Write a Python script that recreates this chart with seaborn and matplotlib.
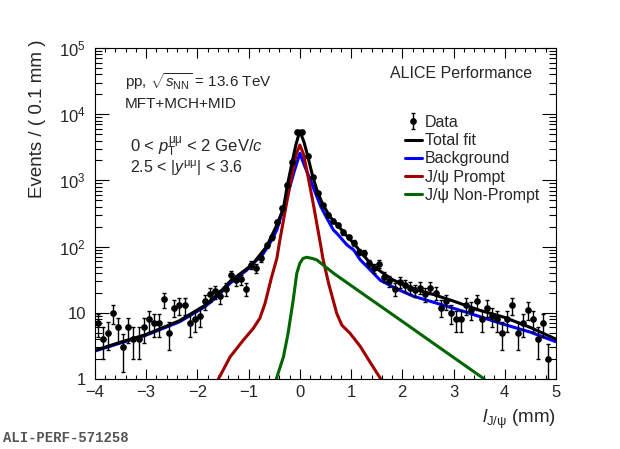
import numpy as np
import pandas as pd
import matplotlib
matplotlib.use('Agg')
import matplotlib.pyplot as plt
import matplotlib.ticker as mticker
from matplotlib.lines import Line2D
import seaborn as sns

# events per 0.1 mm bin, first bin centre at -3.95 mm
first_centre = -3.95
bin_width = 0.1
counts = [7, 4, 5, 10, 6, 3, 6, 4, 4, 6,
          8, 7, 7, 16, 5, 12, 13, 13, 7, 8,
          9, 15, 19, 21, 18, 23, 37, 31, 32, 23,
          53, 47, 67, 105, 138, 238, 378, 851, 1910, 5400,
          5400, 2300, 1140, 640, 420, 300, 246, 212, 165, 140,
          114, 84, 81, 56, 47, 55, 35, 30, 23, 29,
          26, 24, 22, 24, 19, 24, 20, 12, 15, 10,
          8, 8, 13, 11, 15, 8, 12, 9, 8, 5,
          8, 13, 5, 7, 11, 8, 4, 7, 2]

# fit components
bg_x = [-4.0, -3.5, -3.0, -2.35, -1.85, -1.6, -1.36, -1.04, -0.71, -0.55, -0.45,
        -0.39, -0.29, -0.19, -0.1, 0.0, 0.1, 0.23, 0.41, 0.55, 0.655, 0.72, 0.92,
        1.05, 1.18, 1.31, 1.57, 1.89, 2.2, 2.6, 3.2, 3.9, 4.5, 5.0]
bg_y = [2.65, 3.5, 4.6, 7.3, 12.4, 18, 28, 44, 79, 125, 178,
        253, 450, 830, 1450, 2560, 1600, 904, 400, 250, 178, 159, 106,
        89, 63, 50, 31, 23, 18, 14.5, 10.5, 7, 5.1, 3.65]

tot_x = [-4.0, -3.5, -3.0, -2.35, -1.85, -1.6, -1.36, -1.04, -0.91, -0.65, -0.45,
         -0.32, -0.25, -0.15, -0.08, 0.0, 0.08, 0.15, 0.25, 0.35, 0.45, 0.6, 0.75,
         0.9, 1.05, 1.2, 1.4, 1.6, 1.8, 2.0, 2.3, 2.6, 3.0, 3.5, 4.0, 4.5, 5.0]
tot_y = [2.7, 3.6, 4.7, 7.6, 13, 19, 30, 46, 56, 100, 212,
         380, 800, 1900, 3400, 5600, 3800, 2400, 1150, 650, 430, 275, 205,
         150, 112, 81, 53, 41, 32, 27, 22, 19, 15, 11, 8.5, 6, 4.0]

pr_x = [-1.59, -1.36, -1.1, -0.91, -0.78, -0.68, -0.55, -0.45, -0.39, -0.26, -0.15,
        -0.07, 0.0, 0.07, 0.15, 0.26, 0.4, 0.45, 0.56, 0.72, 0.82, 0.98, 1.18, 1.37, 1.58]
pr_y = [1.0, 2.17, 3.9, 5.8, 8.3, 13.9, 35, 66, 126, 450, 1250,
        2500, 3430, 2500, 1250, 450, 112, 66, 28, 9.8, 6.5, 4.9, 3.1, 1.8, 1.0]

np_x = [-0.46, -0.32, -0.23, -0.13, -0.06, 0.0, 0.06, 0.13, 0.25, 0.33, 0.66,
        1.31, 1.96, 2.61, 3.26, 3.6]
np_y = [1.0, 2.17, 4.9, 15.6, 39.5, 56, 66, 69, 66, 63, 39.5,
        17.5, 7.8, 3.45, 1.53, 1.0]

blue = '#0000ff'
red = '#a00000'
green = '#006600'

sns.set_style('ticks')
plt.rcParams['font.family'] = ['Liberation Sans', 'DejaVu Sans']
plt.rcParams['mathtext.fontset'] = 'custom'
plt.rcParams['mathtext.rm'] = 'Liberation Sans'
plt.rcParams['mathtext.it'] = 'Liberation Sans:italic'
plt.rcParams['mathtext.bf'] = 'Liberation Sans:bold'

fig = plt.figure(figsize=(6.2, 4.49), dpi=100)
ax = fig.add_axes([0.1532, 0.1559, 0.7435, 0.7372])

lw = 2.2
sns.lineplot(x=bg_x, y=bg_y, color=blue, lw=lw, ax=ax)
sns.lineplot(x=pr_x, y=pr_y, color=red, lw=lw, ax=ax)
sns.lineplot(x=np_x, y=np_y, color=green, lw=lw, ax=ax)
sns.lineplot(x=tot_x, y=tot_y, color='black', lw=lw, ax=ax)

data = pd.DataFrame({'counts': counts})
data['l'] = first_centre + bin_width * np.arange(len(data))
data['err'] = np.sqrt(data['counts'])
eb = ax.errorbar(data['l'], data['counts'], yerr=data['err'], fmt='o', color='black',
                 ms=3.8, elinewidth=1, capsize=1.5, capthick=1, zorder=5)

ax.set_yscale('log')
ax.set_xlim(-4, 5)
ax.set_ylim(1, 1e5)
ax.set_xlabel('')
ax.set_ylabel('')

ax.xaxis.set_major_locator(mticker.MultipleLocator(1))
ax.xaxis.set_minor_locator(mticker.MultipleLocator(0.2))
ax.yaxis.set_major_locator(mticker.FixedLocator([1, 10, 1e2, 1e3, 1e4, 1e5]))
ax.yaxis.set_major_formatter(mticker.FixedFormatter(
    ['1', '10', r'$10^{2}$', r'$10^{3}$', r'$10^{4}$', r'$10^{5}$']))
ax.yaxis.set_minor_locator(mticker.LogLocator(base=10, subs=np.arange(2, 10)))
ax.yaxis.set_minor_formatter(mticker.NullFormatter())

ax.tick_params(which='both', direction='in', top=True, right=True, color='black')
ax.tick_params(axis='x', which='major', length=7, width=0.8, labelsize=12, pad=4)
ax.tick_params(axis='x', which='minor', length=3.2, width=0.8)
ax.tick_params(axis='y', which='major', length=10, width=0.8, labelsize=12, pad=6.5)
ax.tick_params(axis='y', which='minor', length=5, width=0.8)
for s in ax.spines.values():
    s.set_linewidth(0.8)
    s.set_color('black')

handles = [eb,
           Line2D([], [], color='black', lw=lw),
           Line2D([], [], color=blue, lw=lw),
           Line2D([], [], color=red, lw=lw),
           Line2D([], [], color=green, lw=lw)]
labels = ['Data', 'Total fit', 'Background', 'J/ψ Prompt', 'J/ψ Non-Prompt']
ax.legend(handles, labels, loc='upper left', bbox_to_anchor=(405 / 620, 1 - 115 / 449),
          bbox_transform=fig.transFigure, frameon=False, fontsize=11.5,
          borderaxespad=0, borderpad=0, handlelength=1.06, handletextpad=0.19,
          labelspacing=0.2)

fig.text(125 / 620, 1 - 86.7 / 449, r'pp, $\sqrt{s_{\rm NN}}$ = 13.6 TeV', fontsize=11)
fig.text(125 / 620, 1 - 108.3 / 449, 'MFT+MCH+MID', fontsize=11)
fig.text(130 / 620, 1 - 151.5 / 449, r'0 < $p_{\rm T}^{\rm \mu\mu}$ < 2 GeV/$c$', fontsize=12)
fig.text(130 / 620, 1 - 173.5 / 449, r'2.5 < |$y^{\rm \mu\mu}$| < 3.6', fontsize=11.5)
fig.text(390 / 620, 1 - 78 / 449, 'ALICE Performance', fontsize=11.5)

fig.text(38 / 620, 1 - 40 / 449, 'Events / ( 0.1 mm )', rotation=90,
         ha='center', va='top', fontsize=13.5)
fig.text(556 / 620, 1 - 423 / 449, r'$l_{\rm J/\psi}$ (mm)', ha='right',
         va='baseline', fontsize=13.5)
fig.text(3 / 620, 1 - 442 / 449, 'ALI-PERF-571258', family='Liberation Mono',
         weight='bold', fontsize=10, color='#555555')

fig.savefig('out.png', dpi=100)
